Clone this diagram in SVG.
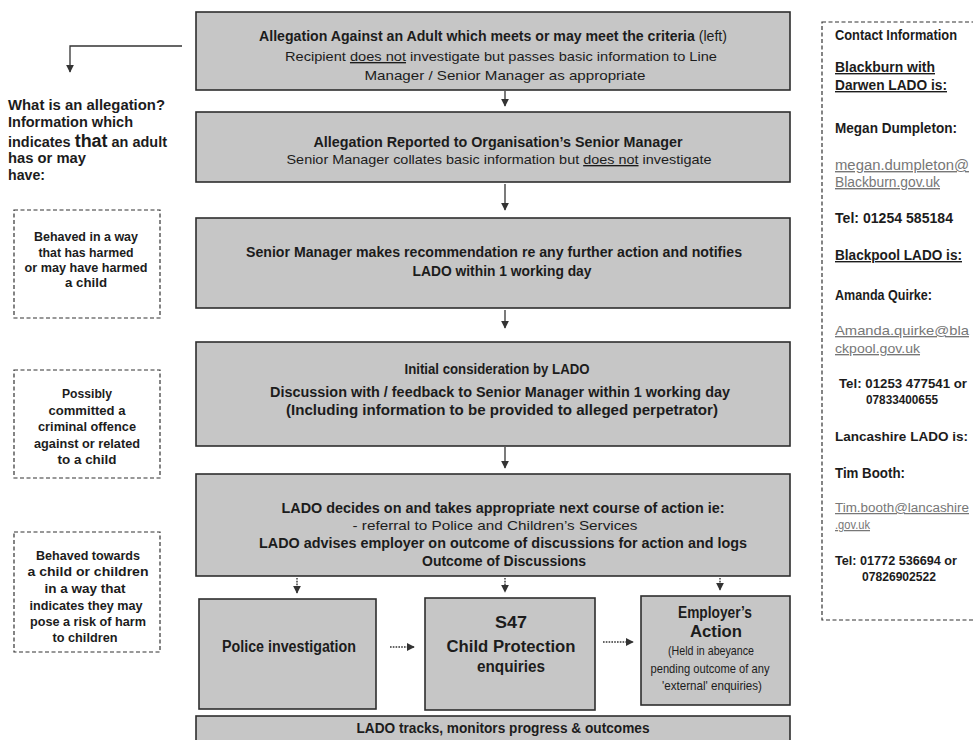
<svg xmlns="http://www.w3.org/2000/svg" width="973" height="740" viewBox="0 0 973 740">
<defs>
<style>
text{font-family:"Liberation Sans",Arial,sans-serif;fill:#1c1c1c;}
.b{font-weight:bold;}
.c{text-anchor:middle;}
.box{fill:#c6c6c6;stroke:#2e2e2e;stroke-width:1.6;}
.dash{fill:#fff;stroke:#333;stroke-width:1.2;stroke-dasharray:4,2.5;}
.con{stroke:#333;stroke-width:1.3;fill:none;}
.dot{stroke:#333;stroke-width:1.4;fill:none;stroke-dasharray:1.6,1.2;}
.u{text-decoration:underline;}
.mail{fill:#777;text-decoration:underline;font-weight:normal;}
</style>
<marker id="ah" viewBox="0 0 10 10" refX="9" refY="5" markerWidth="8" markerHeight="8" markerUnits="userSpaceOnUse" orient="auto">
<path d="M0,0 L10,5 L0,10 z" fill="#333"/>
</marker>
</defs>
<rect width="973" height="740" fill="#fff"/>

<g id="connectors">
<polyline class="con" points="182,46 70,46 70,72" marker-end="url(#ah)"/>
<line class="con" x1="505" y1="91" x2="505" y2="106" marker-end="url(#ah)"/>
<line class="con" x1="505" y1="184" x2="505" y2="210" marker-end="url(#ah)"/>
<line class="con" x1="505" y1="310" x2="505" y2="328" marker-end="url(#ah)"/>
<line class="con" x1="505" y1="447" x2="505" y2="468" marker-end="url(#ah)"/>
<line class="dot" x1="297" y1="578" x2="297" y2="593" marker-end="url(#ah)"/>
<line class="dot" x1="505" y1="578" x2="505" y2="592" marker-end="url(#ah)"/>
<line class="dot" x1="720" y1="578" x2="720" y2="590" marker-end="url(#ah)"/>
<line class="dot" x1="390" y1="647" x2="414" y2="647" marker-end="url(#ah)"/>
<line class="dot" x1="603" y1="642" x2="633" y2="642" marker-end="url(#ah)"/>
</g>

<g id="n1">
<rect class="box" x="196" y="12" width="594" height="78"/>
<text class="c" x="493" y="41" font-size="14" textLength="468" lengthAdjust="spacingAndGlyphs"><tspan class="b">Allegation Against an Adult  which meets or may meet the criteria</tspan> (left)</text>
<text class="c" x="501" y="61" font-size="13.5" textLength="432" lengthAdjust="spacingAndGlyphs">Recipient <tspan class="u">does not</tspan> investigate but passes basic information to Line</text>
<text class="c" x="505" y="80" font-size="13.5" textLength="281" lengthAdjust="spacingAndGlyphs">Manager / Senior Manager as appropriate</text>
</g>

<g id="n2">
<rect class="box" x="196" y="112" width="594" height="70"/>
<text class="c b" x="498" y="147" font-size="14" textLength="369" lengthAdjust="spacingAndGlyphs">Allegation Reported to Organisation’s Senior Manager</text>
<text class="c" x="499" y="164" font-size="13.5" textLength="425" lengthAdjust="spacingAndGlyphs">Senior Manager collates basic information but <tspan class="u">does not</tspan> investigate</text>
</g>

<g id="n3">
<rect class="box" x="196" y="218" width="594" height="90"/>
<text class="c b" x="494" y="257" font-size="14.5" textLength="496" lengthAdjust="spacingAndGlyphs">Senior Manager makes recommendation re any further action and notifies</text>
<text class="c b" x="502" y="276" font-size="14.5" textLength="179" lengthAdjust="spacingAndGlyphs">LADO within 1 working day</text>
</g>

<g id="n4">
<rect class="box" x="196" y="342" width="594" height="104"/>
<text class="c b" x="497" y="374" font-size="14" textLength="185" lengthAdjust="spacingAndGlyphs">Initial consideration by LADO</text>
<text class="c b" x="500" y="397" font-size="14.5" textLength="460" lengthAdjust="spacingAndGlyphs">Discussion with / feedback to Senior Manager within 1 working day</text>
<text class="c b" x="502" y="415" font-size="14.5" textLength="432" lengthAdjust="spacingAndGlyphs">(Including information to be provided to alleged perpetrator)</text>
</g>

<g id="n5">
<rect class="box" x="196" y="474" width="594" height="102"/>
<text class="c b" x="503" y="513" font-size="14.5" textLength="443" lengthAdjust="spacingAndGlyphs">LADO decides on and takes appropriate next course of action ie:</text>
<text class="c" x="495" y="530" font-size="13.5" textLength="285" lengthAdjust="spacingAndGlyphs">- referral to Police and Children’s Services</text>
<text class="c b" x="503" y="548" font-size="14.5" textLength="488" lengthAdjust="spacingAndGlyphs">LADO advises employer on outcome of discussions for action and logs</text>
<text class="c b" x="504" y="566" font-size="14.5" textLength="164" lengthAdjust="spacingAndGlyphs">Outcome of Discussions</text>
</g>

<g id="n6">
<rect class="box" x="199" y="599" width="177" height="110"/>
<text class="c b" x="289" y="652" font-size="16" textLength="134" lengthAdjust="spacingAndGlyphs">Police investigation</text>
</g>

<g id="n7">
<rect class="box" x="425" y="598" width="170" height="112"/>
<text class="c b" x="511" y="628" font-size="16" textLength="32" lengthAdjust="spacingAndGlyphs">S47</text>
<text class="c b" x="511" y="652" font-size="16" textLength="129" lengthAdjust="spacingAndGlyphs">Child Protection</text>
<text class="c b" x="511" y="672" font-size="16" textLength="68" lengthAdjust="spacingAndGlyphs">enquiries</text>
</g>

<g id="n8">
<rect class="box" x="641" y="596" width="149" height="109"/>
<text class="c b" x="715" y="618" font-size="16" textLength="74" lengthAdjust="spacingAndGlyphs">Employer’s</text>
<text class="c b" x="716" y="637" font-size="16" textLength="52" lengthAdjust="spacingAndGlyphs">Action</text>
<text class="c" x="711" y="655" font-size="13" textLength="86" lengthAdjust="spacingAndGlyphs">(Held in abeyance</text>
<text class="c" x="710" y="673" font-size="13" textLength="119" lengthAdjust="spacingAndGlyphs">pending outcome of any</text>
<text class="c" x="712" y="690" font-size="13" textLength="100" lengthAdjust="spacingAndGlyphs">'external'  enquiries)</text>
</g>

<g id="n9">
<rect class="box" x="196" y="716" width="594" height="40"/>
<text class="c b" x="503" y="733" font-size="14.5" textLength="293" lengthAdjust="spacingAndGlyphs">LADO tracks, monitors progress &amp; outcomes</text>
</g>

<g id="intro">
<text class="b" x="8" y="110" font-size="14.5" textLength="157" lengthAdjust="spacingAndGlyphs">What is an allegation?</text>
<text class="b" x="8" y="127" font-size="14.5" textLength="125" lengthAdjust="spacingAndGlyphs">Information which</text>
<text class="b" x="8" y="147" font-size="14.5" textLength="159" lengthAdjust="spacingAndGlyphs">indicates <tspan font-size="18">that</tspan> an adult</text>
<text class="b" x="8" y="163" font-size="14.5" textLength="78" lengthAdjust="spacingAndGlyphs">has or may</text>
<text class="b" x="8" y="180" font-size="14.5" textLength="37" lengthAdjust="spacingAndGlyphs">have:</text>
</g>

<g id="d1">
<rect class="dash" x="14" y="210" width="146" height="108"/>
<text class="c b" x="86" y="241" font-size="13.5" textLength="104" lengthAdjust="spacingAndGlyphs">Behaved in a way</text>
<text class="c b" x="86" y="257" font-size="13.5" textLength="95" lengthAdjust="spacingAndGlyphs">that has harmed</text>
<text class="c b" x="86" y="272" font-size="13.5" textLength="123" lengthAdjust="spacingAndGlyphs">or may have harmed</text>
<text class="c b" x="86" y="287" font-size="13.5" textLength="42" lengthAdjust="spacingAndGlyphs">a child</text>
</g>

<g id="d2">
<rect class="dash" x="14" y="370" width="146" height="108"/>
<text class="c b" x="87" y="398" font-size="13.5" textLength="50" lengthAdjust="spacingAndGlyphs">Possibly</text>
<text class="c b" x="87" y="415" font-size="13.5" textLength="77" lengthAdjust="spacingAndGlyphs">committed a</text>
<text class="c b" x="87" y="431" font-size="13.5" textLength="98" lengthAdjust="spacingAndGlyphs">criminal offence</text>
<text class="c b" x="87" y="448" font-size="13.5" textLength="106" lengthAdjust="spacingAndGlyphs">against or related</text>
<text class="c b" x="87" y="464" font-size="13.5" textLength="59" lengthAdjust="spacingAndGlyphs">to a child</text>
</g>

<g id="d3">
<rect class="dash" x="14" y="532" width="146" height="120"/>
<text class="c b" x="88" y="560" font-size="13.5" textLength="104" lengthAdjust="spacingAndGlyphs">Behaved towards</text>
<text class="c b" x="88" y="576" font-size="13.5" textLength="121" lengthAdjust="spacingAndGlyphs">a child or children</text>
<text class="c b" x="85" y="593" font-size="13.5" textLength="81" lengthAdjust="spacingAndGlyphs">in a way that</text>
<text class="c b" x="86" y="610" font-size="13.5" textLength="113" lengthAdjust="spacingAndGlyphs">indicates they may</text>
<text class="c b" x="88" y="626" font-size="13.5" textLength="116" lengthAdjust="spacingAndGlyphs">pose a risk of harm</text>
<text class="c b" x="85" y="642" font-size="13.5" textLength="65" lengthAdjust="spacingAndGlyphs">to children</text>
</g>

<g id="contact">
<rect class="dash" x="822" y="22" width="160" height="598"/>
<text class="b" x="835" y="40" font-size="14" textLength="122" lengthAdjust="spacingAndGlyphs">Contact Information</text>
<text class="b u" x="835" y="72" font-size="14" textLength="100" lengthAdjust="spacingAndGlyphs">Blackburn with</text>
<text class="b u" x="835" y="90" font-size="14" textLength="112" lengthAdjust="spacingAndGlyphs">Darwen LADO is:</text>
<text class="b" x="835" y="133" font-size="14" textLength="122" lengthAdjust="spacingAndGlyphs">Megan Dumpleton:</text>
<text class="mail" x="835" y="170" font-size="14" textLength="134" lengthAdjust="spacingAndGlyphs">megan.dumpleton@</text>
<text class="mail" x="835" y="187" font-size="14" textLength="105" lengthAdjust="spacingAndGlyphs">Blackburn.gov.uk</text>
<text class="b" x="835" y="223" font-size="14" textLength="118" lengthAdjust="spacingAndGlyphs">Tel: 01254 585184</text>
<text class="b u" x="835" y="260" font-size="14" textLength="127" lengthAdjust="spacingAndGlyphs">Blackpool LADO is:</text>
<text class="b" x="835" y="300" font-size="14" textLength="97" lengthAdjust="spacingAndGlyphs">Amanda Quirke:</text>
<text class="mail" x="835" y="335" font-size="13.5" textLength="134" lengthAdjust="spacingAndGlyphs">Amanda.quirke@bla</text>
<text class="mail" x="835" y="353" font-size="13.5" textLength="85" lengthAdjust="spacingAndGlyphs">ckpool.gov.uk</text>
<text class="b" x="839" y="388" font-size="13" textLength="128" lengthAdjust="spacingAndGlyphs">Tel: 01253 477541 or</text>
<text class="b" x="866" y="404" font-size="12.5" textLength="72" lengthAdjust="spacingAndGlyphs">07833400655</text>
<text class="b" x="835" y="441" font-size="13" textLength="133" lengthAdjust="spacingAndGlyphs">Lancashire LADO is:</text>
<text class="b" x="835" y="478" font-size="14" textLength="70" lengthAdjust="spacingAndGlyphs">Tim Booth:</text>
<text class="mail" x="835" y="512" font-size="12.5" textLength="134" lengthAdjust="spacingAndGlyphs">Tim.booth@lancashire</text>
<text class="mail" x="835" y="529" font-size="12.5" textLength="35" lengthAdjust="spacingAndGlyphs">.gov.uk</text>
<text class="b" x="835" y="565" font-size="12.5" textLength="122" lengthAdjust="spacingAndGlyphs">Tel: 01772 536694 or</text>
<text class="b" x="862" y="581" font-size="12.5" textLength="74" lengthAdjust="spacingAndGlyphs">07826902522</text>
</g>
</svg>
